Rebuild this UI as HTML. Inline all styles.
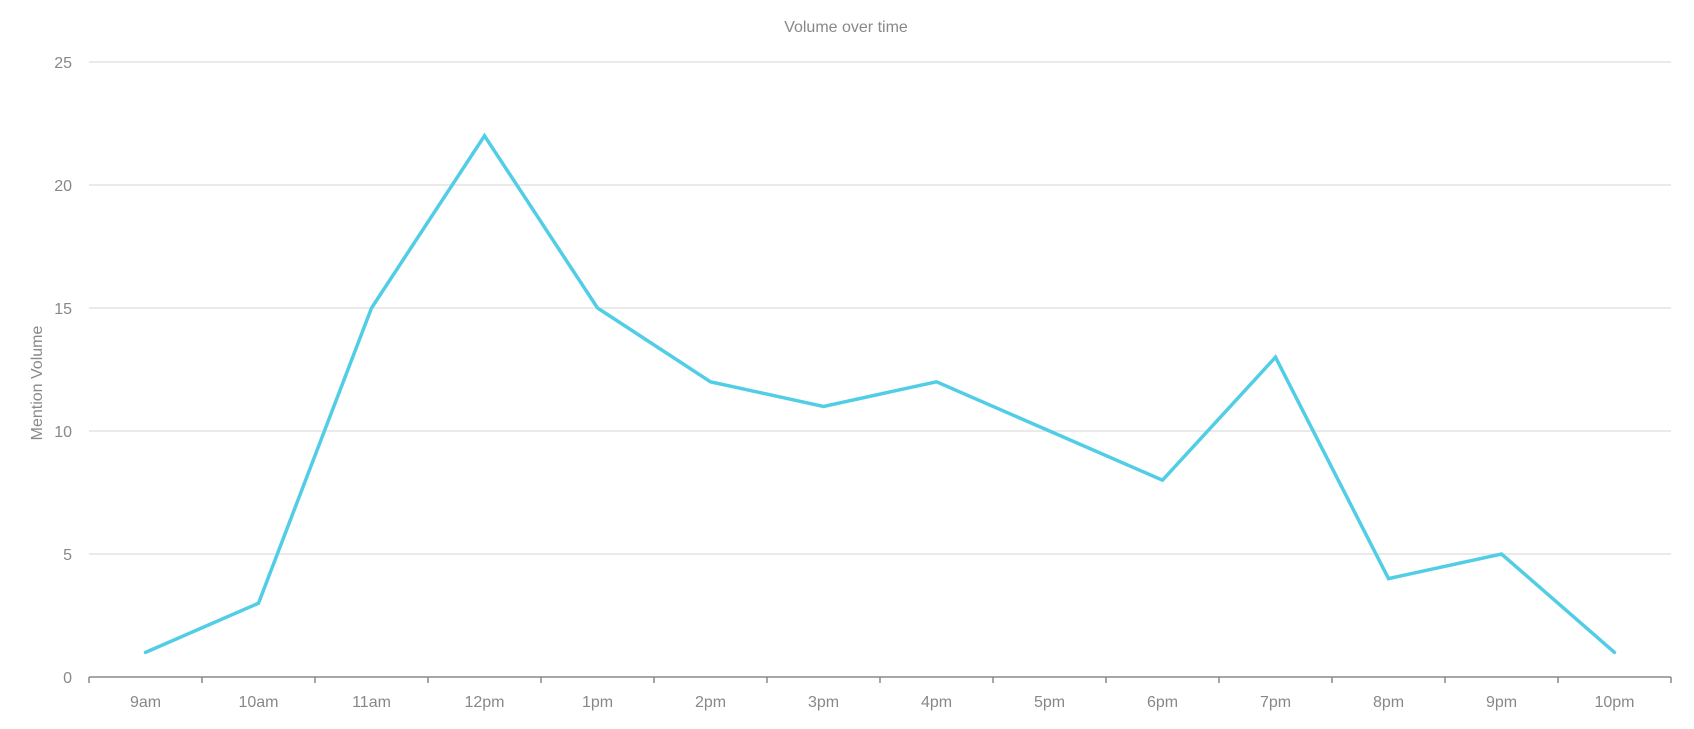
<!DOCTYPE html>
<html><head><meta charset="utf-8"><style>
html,body{margin:0;padding:0;background:#fff;}
text{font-family:"Liberation Sans",sans-serif;fill:#888;}
</style></head><body>
<svg width="1694" height="724" xmlns="http://www.w3.org/2000/svg">
<text x="846" y="32" font-size="16" text-anchor="middle">Volume over time</text>
<text transform="translate(42,383) rotate(-90)" font-size="16" text-anchor="middle">Mention Volume</text>
<g stroke="#e3e3e3" stroke-width="1.5">
<line x1="89" x2="1671" y1="62" y2="62"/>
<line x1="89" x2="1671" y1="185" y2="185"/>
<line x1="89" x2="1671" y1="308" y2="308"/>
<line x1="89" x2="1671" y1="431" y2="431"/>
<line x1="89" x2="1671" y1="554" y2="554"/>
</g>
<g font-size="16" text-anchor="end">
<text x="72" y="68">25</text>
<text x="72" y="191">20</text>
<text x="72" y="314">15</text>
<text x="72" y="437">10</text>
<text x="72" y="560">5</text>
<text x="72" y="683">0</text>
</g>
<g stroke="#888" stroke-width="1.5">
<line x1="89" x2="1671" y1="677" y2="677"/>
<line x1="89" x2="89" y1="677" y2="683"/>
<line x1="202" x2="202" y1="677" y2="683"/>
<line x1="315" x2="315" y1="677" y2="683"/>
<line x1="428" x2="428" y1="677" y2="683"/>
<line x1="541" x2="541" y1="677" y2="683"/>
<line x1="654" x2="654" y1="677" y2="683"/>
<line x1="767" x2="767" y1="677" y2="683"/>
<line x1="880" x2="880" y1="677" y2="683"/>
<line x1="993" x2="993" y1="677" y2="683"/>
<line x1="1106" x2="1106" y1="677" y2="683"/>
<line x1="1219" x2="1219" y1="677" y2="683"/>
<line x1="1332" x2="1332" y1="677" y2="683"/>
<line x1="1445" x2="1445" y1="677" y2="683"/>
<line x1="1558" x2="1558" y1="677" y2="683"/>
<line x1="1671" x2="1671" y1="677" y2="683"/>
</g>
<g font-size="16" text-anchor="middle">
<text x="145.5" y="707">9am</text>
<text x="258.5" y="707">10am</text>
<text x="371.5" y="707">11am</text>
<text x="484.5" y="707">12pm</text>
<text x="597.5" y="707">1pm</text>
<text x="710.5" y="707">2pm</text>
<text x="823.5" y="707">3pm</text>
<text x="936.5" y="707">4pm</text>
<text x="1049.5" y="707">5pm</text>
<text x="1162.5" y="707">6pm</text>
<text x="1275.5" y="707">7pm</text>
<text x="1388.5" y="707">8pm</text>
<text x="1501.5" y="707">9pm</text>
<text x="1614.5" y="707">10pm</text>
</g>
<polyline fill="none" stroke="#52cde6" stroke-width="3.5" stroke-linejoin="miter" stroke-linecap="round"
points="145.5,652.4 258.5,603.2 371.5,308 484.5,135.8 597.5,308 710.5,381.8 823.5,406.4 936.5,381.8 1049.5,431 1162.5,480.2 1275.5,357.2 1388.5,578.6 1501.5,554 1614.5,652.4"/>
</svg>
</body></html>
